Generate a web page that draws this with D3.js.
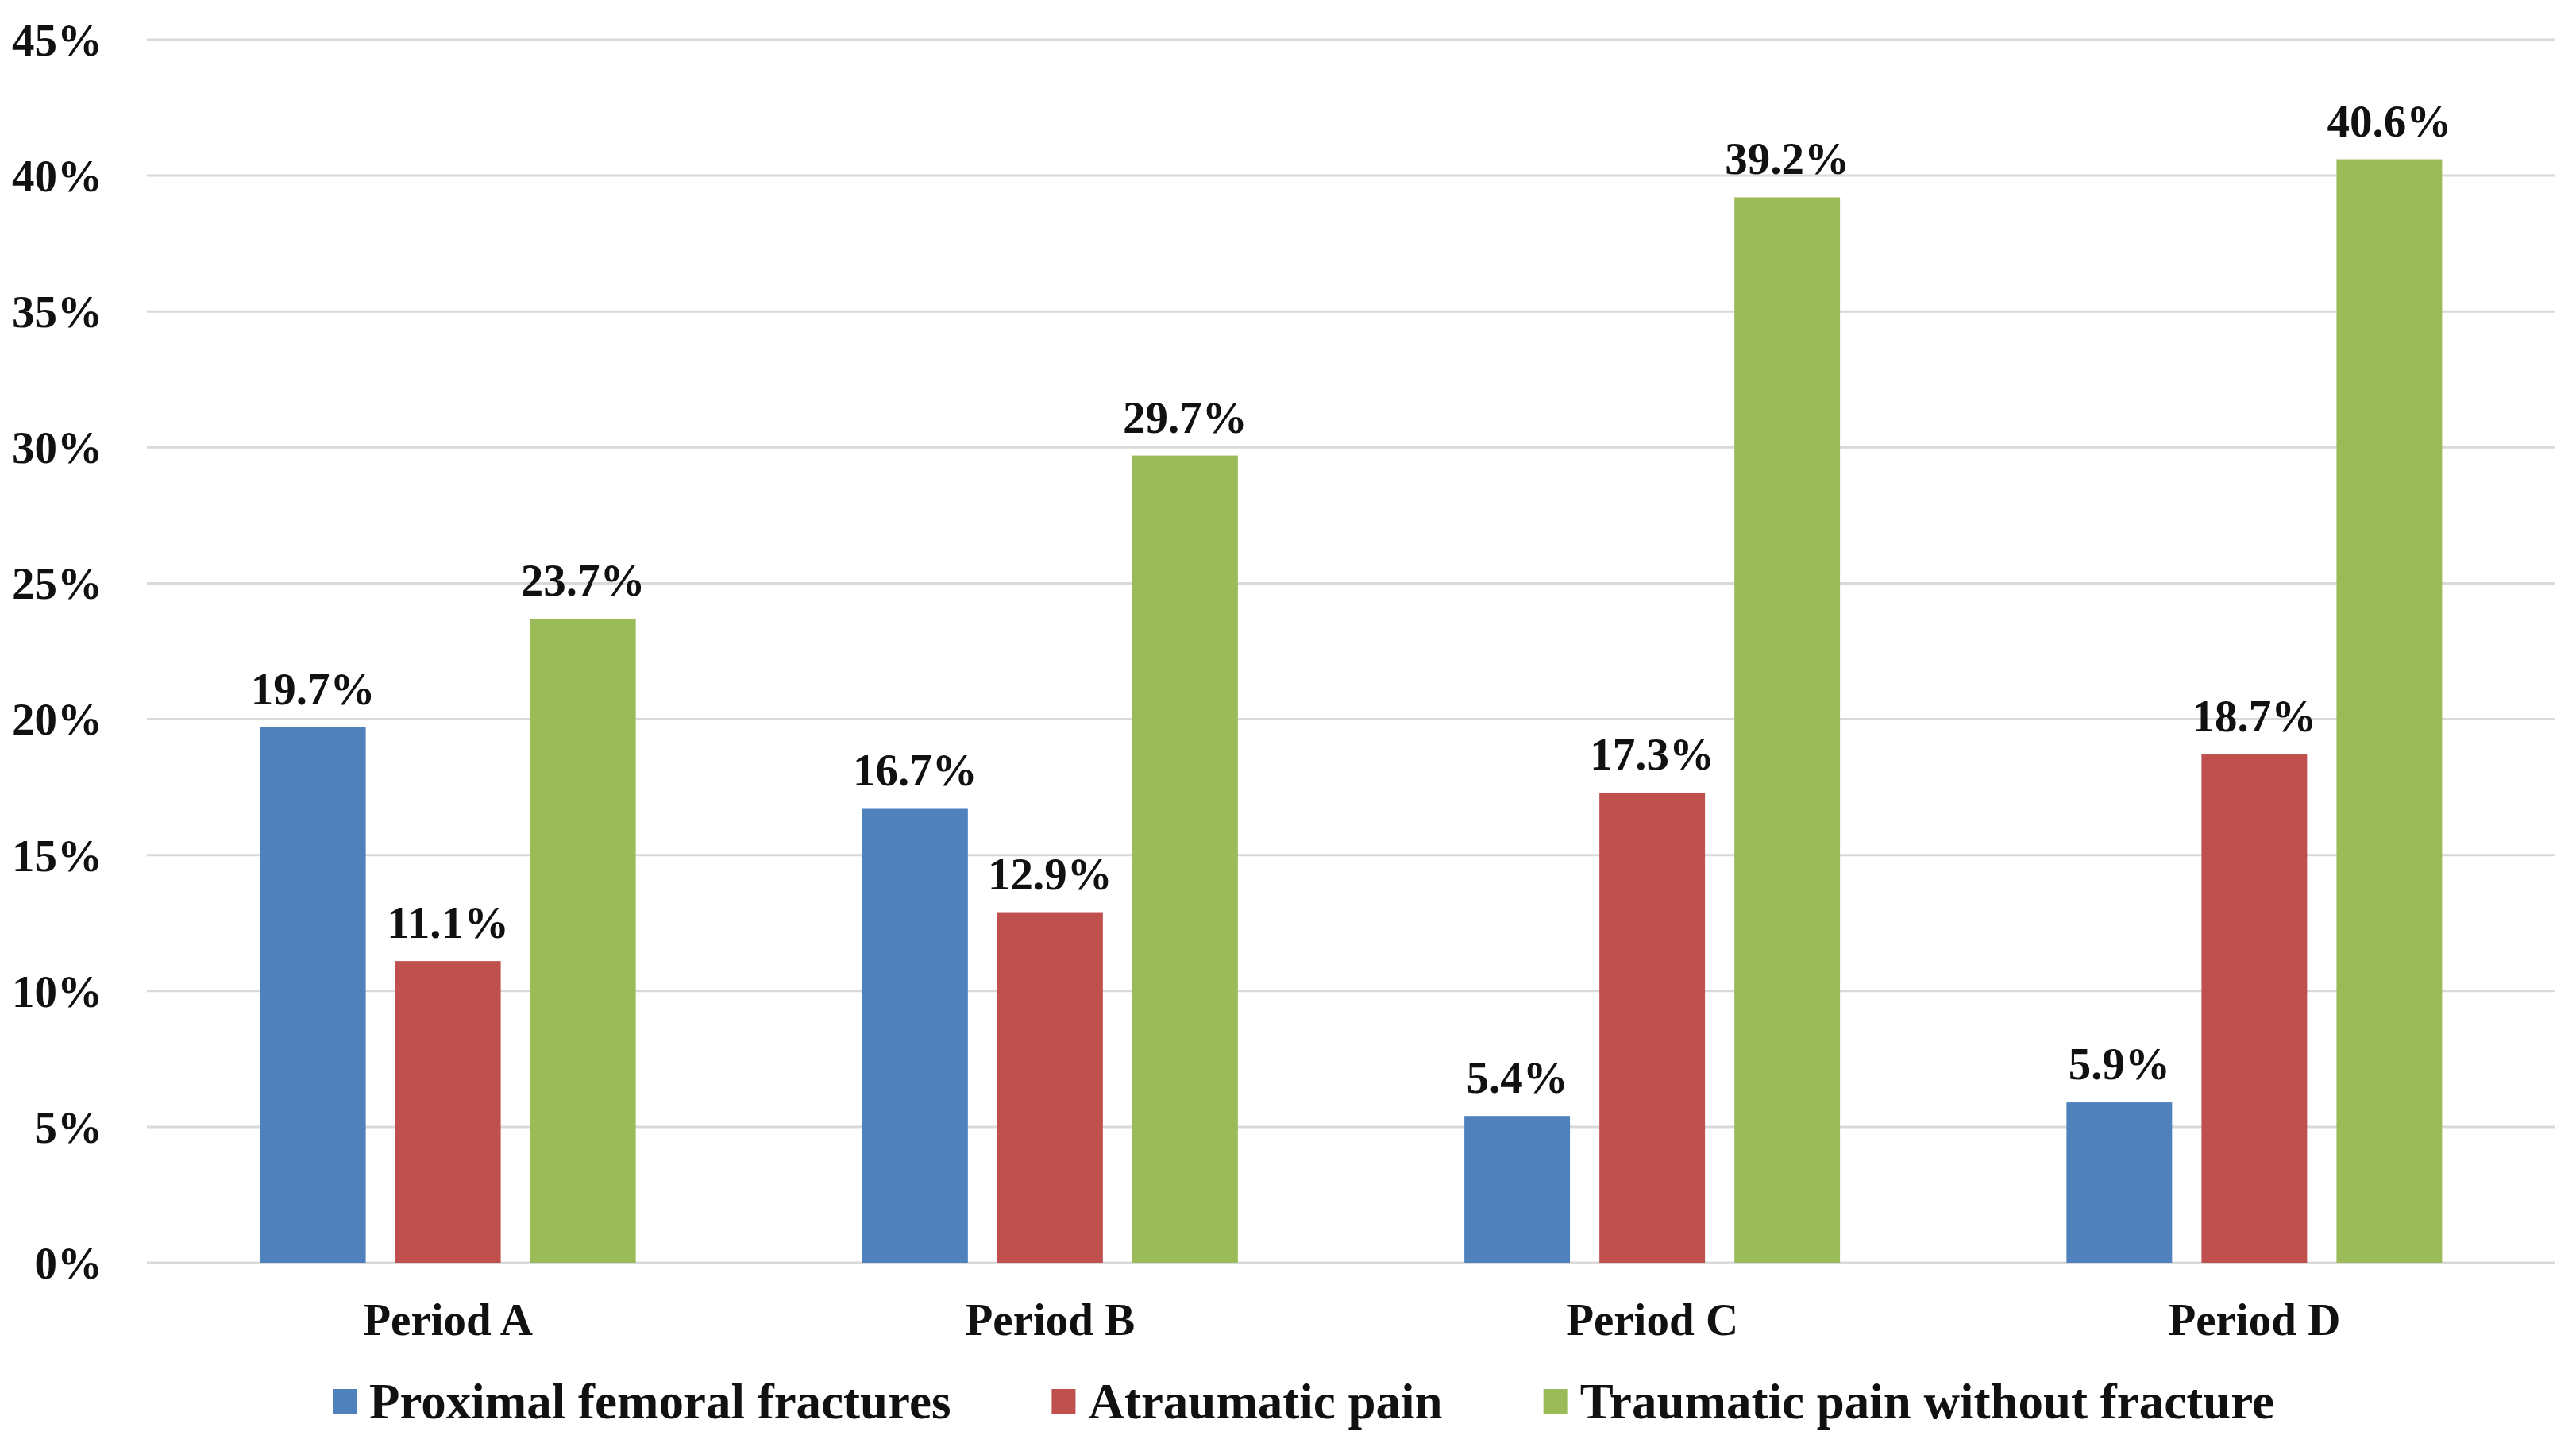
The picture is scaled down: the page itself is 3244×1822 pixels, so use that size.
<!DOCTYPE html>
<html>

<head>
    <meta charset="UTF-8">
    <style>
        body { margin: 0; background: #fff; }
        text { font-family: "Liberation Serif", "Times New Roman", serif; font-weight: bold; fill: #111; }
    </style>
</head>

<body>
    <svg></svg>
    <script src="https://d3js.org/d3.v7.min.js"></script>
    <script>
        let width = 3244,
            height = 1822;

        let categories = ["Period A", "Period B", "Period C", "Period D"];
        let series = ["Proximal femoral fractures", "Atraumatic pain", "Traumatic pain without fracture"];
        let femoral = [19.7, 16.7, 5.4, 5.9];
        let atraumatic = [11.1, 12.9, 17.3, 18.7];
        let traumatic = [23.7, 29.7, 39.2, 40.6];
        let yTicks = [0, 5, 10, 15, 20, 25, 30, 35, 40, 45];
        let colors = ["#4f81bd", "#c0504d", "#9bbb59"];

        let values = [femoral, atraumatic, traumatic];

        let svg = d3.select("svg")
            .attr("width", width)
            .attr("height", height);

        let y = d3.scaleLinear()
            .domain([0, 45])
            .range([1590, 50]);

        let x0 = d3.scaleBand()
            .domain(categories)
            .range([185, 3218]);

        let groupWidth = 473;
        let x1 = d3.scaleBand()
            .domain(series)
            .range([0, groupWidth])
            .paddingInner(0.218);

        let colorScale = d3.scaleOrdinal()
            .domain(series)
            .range(colors);

        // gridlines
        svg.append("g")
            .selectAll("line")
            .data(yTicks)
            .enter()
            .append("line")
            .attr("x1", 185)
            .attr("x2", 3218)
            .attr("y1", d => y(d))
            .attr("y2", d => y(d))
            .attr("stroke", "#d9d9d9")
            .attr("stroke-width", 3);

        // y axis labels
        let yAxis = d3.axisLeft(y)
            .tickValues(yTicks)
            .tickFormat(d => d + "%")
            .tickSize(0)
            .tickPadding(0);

        svg.append("g")
            .attr("transform", "translate(129,0)")
            .call(yAxis)
            .call(g => g.select(".domain").remove())
            .selectAll("text")
            .attr("font-size", 57)
            .attr("dy", "0.34em")
            .style("font-family", "'Liberation Serif', serif")
            .style("font-weight", "bold")
            .attr("fill", "#111");

        // x axis labels
        let xAxis = d3.axisBottom(x0).tickSize(0).tickPadding(0);
        svg.append("g")
            .attr("transform", "translate(0,1681)")
            .call(xAxis)
            .call(g => g.select(".domain").remove())
            .selectAll("text")
            .attr("font-size", 57)
            .attr("y", 0)
            .attr("dy", 0)
            .style("font-family", "'Liberation Serif', serif")
            .style("font-weight", "bold")
            .attr("fill", "#111");

        let rows = [];
        categories.forEach((c, i) => {
            series.forEach((s, j) => {
                rows.push({ cat: c, ser: s, val: values[j][i] });
            });
        });

        let offset = (x0.bandwidth() - groupWidth) / 2;

        svg.append("g")
            .selectAll("rect")
            .data(rows)
            .enter()
            .append("rect")
            .attr("x", d => x0(d.cat) + offset + x1(d.ser))
            .attr("y", d => y(d.val))
            .attr("width", x1.bandwidth())
            .attr("height", d => y(0) - y(d.val))
            .attr("fill", d => colorScale(d.ser));

        svg.append("g")
            .selectAll("text")
            .data(rows)
            .enter()
            .append("text")
            .attr("x", d => x0(d.cat) + offset + x1(d.ser) + x1.bandwidth() / 2)
            .attr("y", d => y(d.val) - 29)
            .attr("text-anchor", "middle")
            .attr("font-size", 57)
            .text(d => d.val.toFixed(1) + "%");

        // legend
        let legend = svg.append("g").attr("transform", "translate(419,1786)");
        let lx = 0;
        series.forEach((s, i) => {
            let item = legend.append("g").attr("transform", "translate(" + lx + ",0)");
            item.append("rect")
                .attr("x", 0)
                .attr("y", -37)
                .attr("width", 30)
                .attr("height", 31)
                .attr("fill", colors[i]);
            let t = item.append("text")
                .attr("x", 46)
                .attr("y", 0)
                .attr("font-size", 63)
                .text(s);
            lx += 46 + t.node().getComputedTextLength() + 127;
        });
    </script>
</body>

</html>
